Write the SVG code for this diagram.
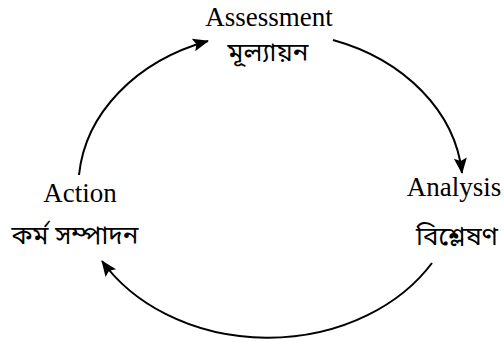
<svg xmlns="http://www.w3.org/2000/svg" width="504" height="342" viewBox="0 0 504 342">
<defs>
<marker id="ah" markerUnits="userSpaceOnUse" markerWidth="18" markerHeight="14" refX="15" refY="6.5" orient="auto" overflow="visible">
<path d="M0,0 L16,6.5 L0,13 L3,6.5 z" fill="#000"/>
</marker>
<style>
.en{font-family:"Liberation Serif","Times New Roman",serif;font-size:27px;fill:#000;text-anchor:middle}
.bn{font-family:"Noto Sans Bengali","Noto Serif Bengali","Lohit Bengali","FreeSerif","Noto Sans",sans-serif;font-size:26px;fill:#000;text-anchor:middle}
.c{fill:none;stroke:#000;stroke-width:2;marker-end:url(#ah)}
</style>
</defs>
<rect width="504" height="342" fill="#fff"/>
<g id="connectors">
<path class="c" d="M79,175 A192,155 0 0 1 208,41"/>
<path class="c" d="M333,40 A192,155 0 0 1 462,173"/>
<path class="c" d="M432,263 A192,155 0 0 1 102,261"/>
</g>
<g id="assessment">
<text class="en" x="269" y="26">Assessment</text>
<text class="bn" x="268" y="61">মূল্যায়ন</text>
</g>
<g id="analysis">
<text class="en" x="454" y="196">Analysis</text>
<text class="bn" x="457" y="245">বিশ্লেষণ</text>
</g>
<g id="action">
<text class="en" x="80" y="202">Action</text>
<text class="bn" x="75" y="244">কর্ম সম্পাদন</text>
</g>
</svg>
